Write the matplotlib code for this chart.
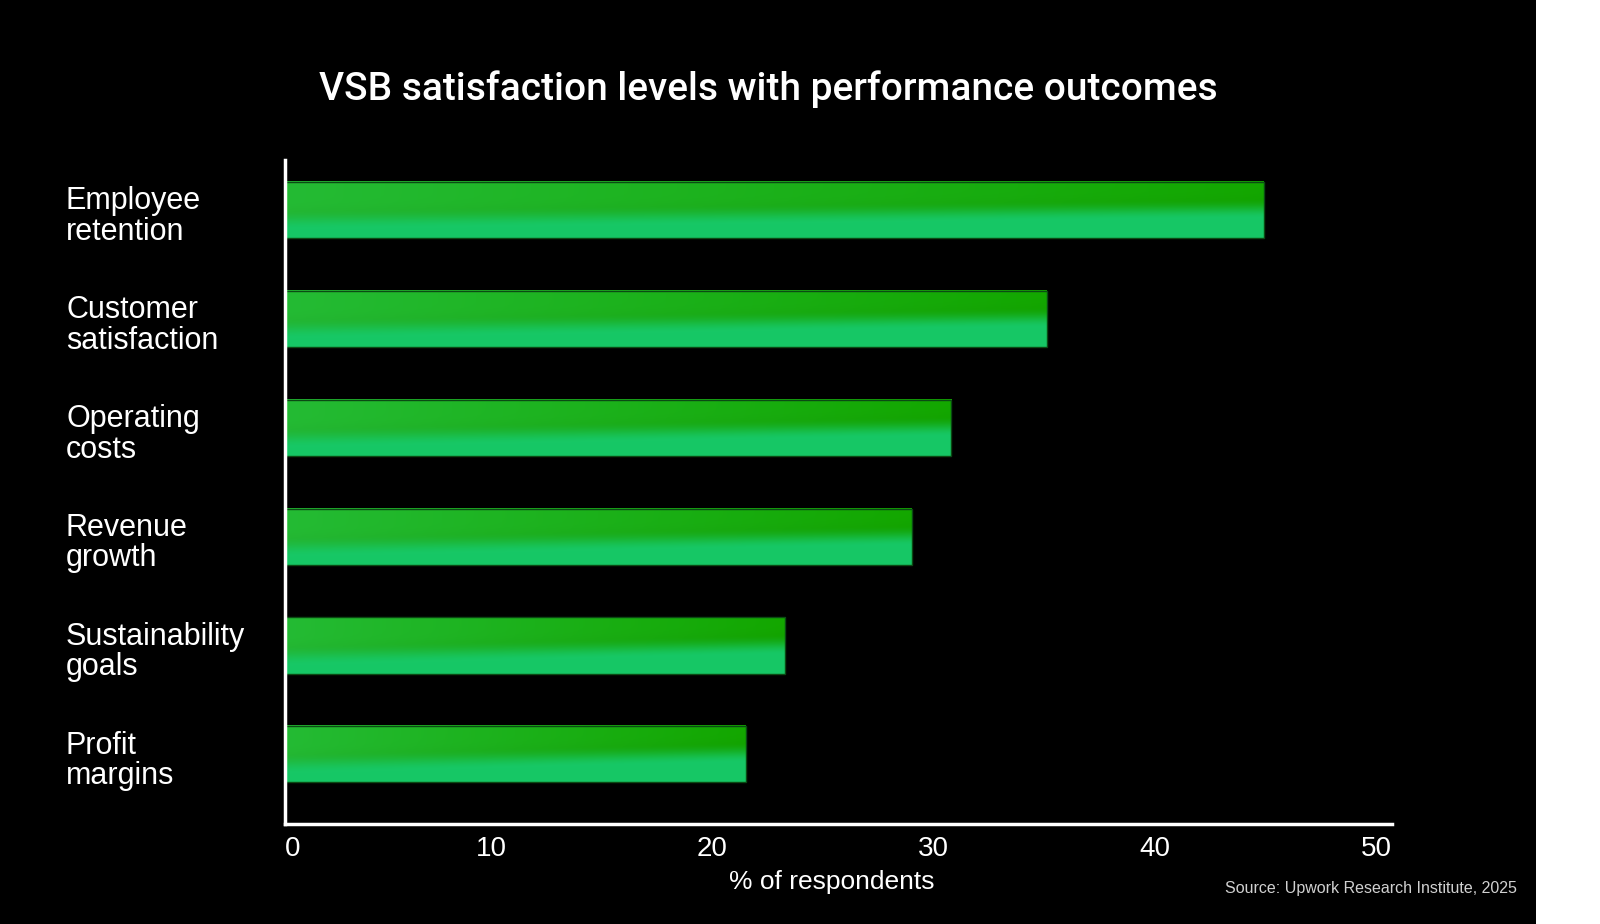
import matplotlib
matplotlib.use("Agg")
import matplotlib.pyplot as plt
import numpy as np
from matplotlib.patches import Rectangle
from matplotlib.transforms import blended_transform_factory

categories = [
    "Employee\nretention",
    "Customer\nsatisfaction",
    "Operating\ncosts",
    "Revenue\ngrowth",
    "Sustainability\ngoals",
    "Profit\nmargins",
]
values = [44.2, 34.4, 30.1, 28.3, 22.6, 20.8]
x_ticks = [0, 10, 20, 30, 40, 50]

plt.rcParams["font.family"] = ["Liberation Sans", "DejaVu Sans"]

W, H = 1600, 924
fig = plt.figure(figsize=(W / 100, H / 100), dpi=100, facecolor="white")
# black panel, white strip on the right
fig.patches.append(Rectangle((0, 0), 1536 / W, 1, transform=fig.transFigure,
                             facecolor="black", edgecolor="none", zorder=-5))

ax = fig.add_axes([285 / W, 100 / H, (1392 - 285) / W, (824 - 160) / H])
ax.set_facecolor("none")
ax.set_zorder(2)

# gradient used for every bar (relative to its own size)
nu, nv = 240, 80
u = np.linspace(0, 1, nu)[None, :]
v = np.linspace(0, 1, nv)[:, None]
top_left = np.array([0x24, 0xbb, 0x34]) / 255
top_right = np.array([0x13, 0xa7, 0x00]) / 255
bottom = np.array([0x17, 0xc8, 0x66]) / 255
top_col = top_left[None, None, :] * (1 - u[..., None]) + top_right[None, None, :] * u[..., None]
edge = 0.68 - 0.2 * u
t = np.clip((v - edge) / 0.36 + 0.5, 0, 1)
t = t * t * (3 - 2 * t)
grad = top_col * (1 - t[..., None]) + bottom[None, None, :] * t[..., None]
# very soft darker streak along the boundary
streak = np.exp(-((v - (edge - 0.1)) / 0.14) ** 2)
grad = grad * (1 - 0.025 * streak[..., None])

bar_h = 0.515
y_pos = np.arange(len(categories))
for y, val in zip(y_pos, values):
    ax.imshow(grad, extent=(0, val, y + bar_h / 2, y - bar_h / 2),
              aspect="auto", interpolation="bilinear", zorder=2)
    ax.add_patch(Rectangle((0, y - bar_h / 2), val, bar_h, facecolor="none",
                           edgecolor="#0b4a14", linewidth=1.0, zorder=3))

ax.set_xlim(0, 50)
ax.set_ylim(5.64, -0.46)

for side in ["top", "right"]:
    ax.spines[side].set_visible(False)
for side in ["left", "bottom"]:
    ax.spines[side].set_color("white")
    ax.spines[side].set_linewidth(2.5)
    ax.spines[side].set_zorder(4)

ax.set_yticks([])
ax.set_xticks(x_ticks)
ax.set_xticklabels([str(x) for x in x_ticks], color="white", fontsize=20)
ax.tick_params(axis="x", length=0, pad=9)
for i, lab in enumerate(ax.get_xticklabels()):
    lab.set_ha("left" if i == 0 else "right")

trans = blended_transform_factory(fig.transFigure, ax.transData)
for y, cat in zip(y_pos, categories):
    ax.text(66 / W, y + 0.06, cat, transform=trans, ha="left", va="center",
            color="white", fontsize=22, linespacing=1.02)

fig.text(768 / W, 1 - 89 / H, "VSB satisfaction levels with performance outcomes",
         ha="center", va="center", color="white", fontsize=28,
         family=["Roboto", "Liberation Sans"], fontweight="medium")
fig.text(832 / W, 1 - 882 / H, "% of respondents", ha="center", va="center",
         color="white", fontsize=19)
fig.text(1517 / W, 1 - 889 / H, "Source: Upwork Research Institute, 2025",
         ha="right", va="center", color="#d0d0d0", fontsize=11.5)

fig.savefig("out.png", dpi=100, facecolor="white")
